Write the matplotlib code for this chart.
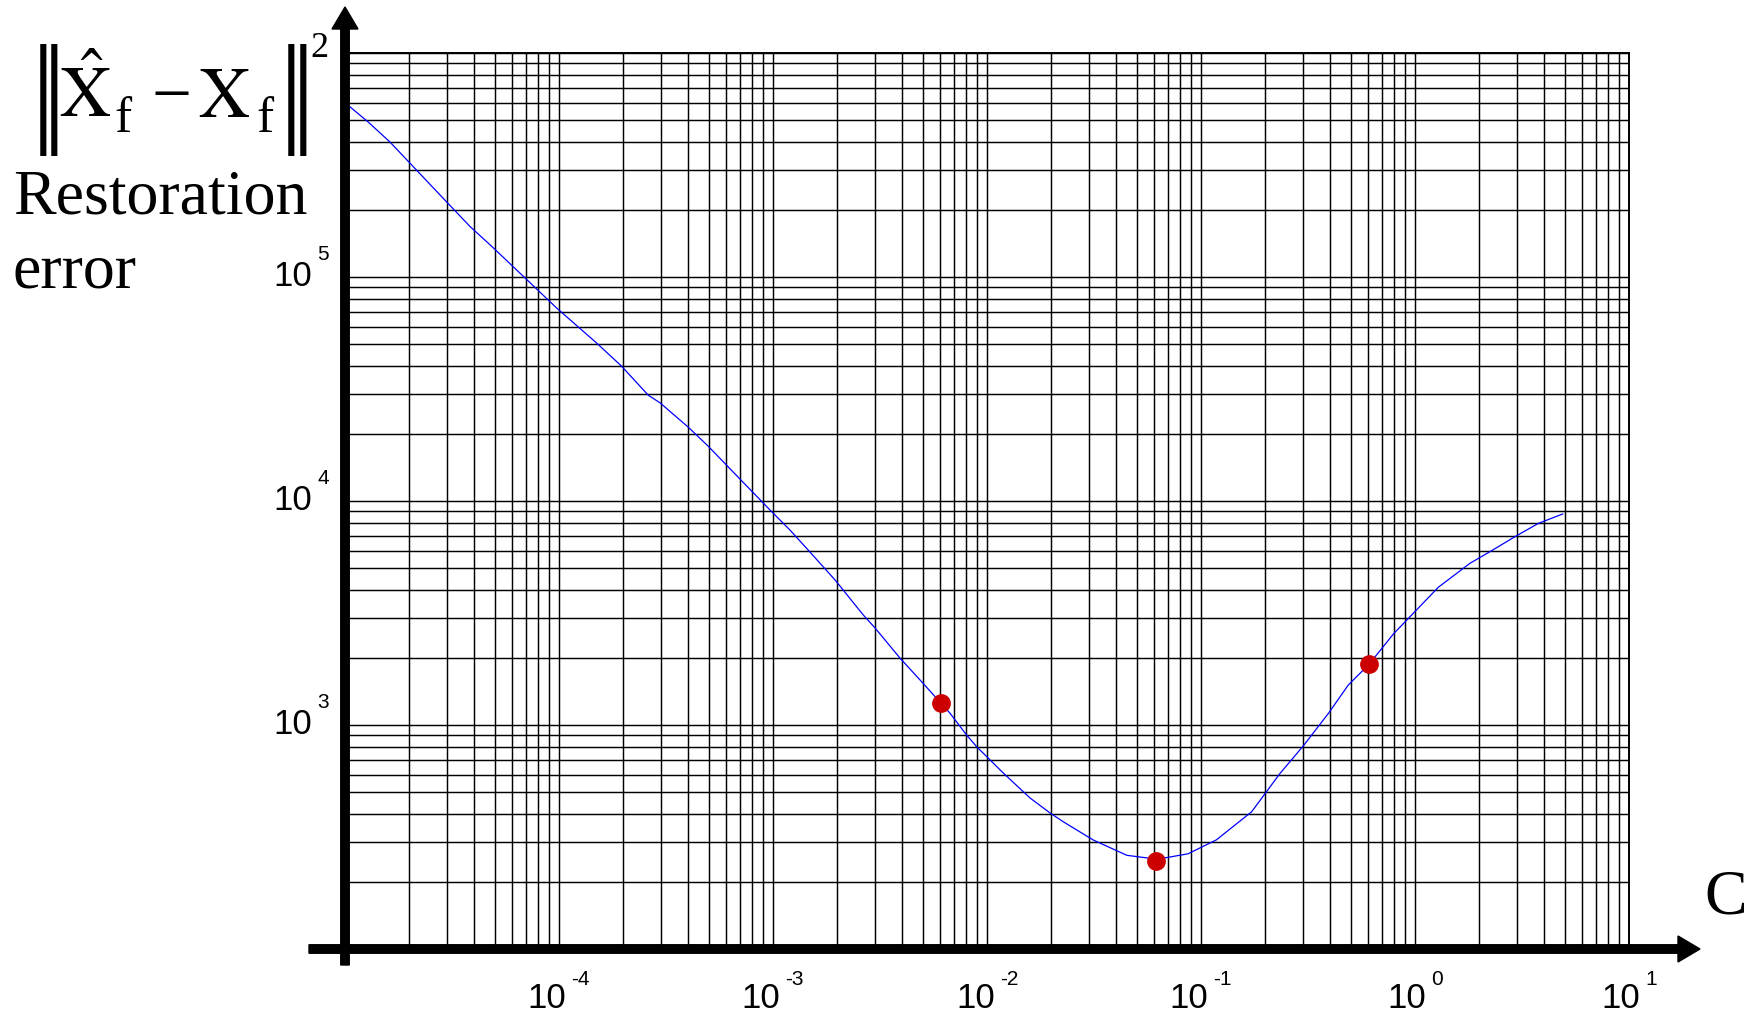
import numpy as np
import matplotlib.pyplot as plt
from matplotlib import transforms
from matplotlib.patches import FancyArrow
from matplotlib.ticker import LogLocator

W, H = 1759, 1014

# restoration error vs C
c_vals = [1.0e-5, 1.28e-5, 1.62e-5, 2.16e-5, 2.87e-5, 3.84e-5, 4.85e-5, 6.79e-5,
          9.75e-5, 1.50e-4, 1.96e-4, 2.61e-4, 2.97e-4, 4.01e-4, 4.97e-4, 6.86e-4,
          9.68e-4, 1.20e-3, 1.46e-3, 1.95e-3, 2.64e-3, 3.0e-3, 3.92e-3, 4.95e-3,
          6.1e-3, 6.71e-3, 8.03e-3, 8.95e-3, 1.19e-2, 1.59e-2, 1.97e-2, 2.27e-2,
          3.13e-2, 4.50e-2, 6.17e-2, 6.92e-2, 8.69e-2, 0.118, 0.1725, 0.234,
          0.301, 0.394, 0.488, 0.611, 0.792, 0.982, 1.285, 1.807, 2.28, 2.93,
          3.77, 4.9]
err_vals = [6.0e5, 4.93e5, 4.01e5, 3.0e5, 2.25e5, 1.68e5, 1.37e5, 1.01e5,
            7.27e4, 5.07e4, 4.0e4, 2.97e4, 2.74e4, 2.14e4, 1.76e4, 1.28e4,
            9120, 7420, 6040, 4440, 3100, 2710, 1990, 1560,
            1250, 1130, 902, 800, 611, 472, 405, 370,
            307, 262, 252, 256, 266, 307, 410, 608,
            808, 1127, 1509, 1870, 2547, 3153, 4119, 5272, 6000, 6929,
            7943, 8750]

# highlighted points
dot_c = [6.1e-3, 6.17e-2, 0.611]
dot_err = [1250, 248, 1870]

xtick_exps = ['-4', '-3', '-2', '-1', '0', '1']
ytick_exps = ['3', '4', '5']

fig = plt.figure(figsize=(W / 100, H / 100), dpi=100)
ax = fig.add_axes([345 / W, 1 - 949 / H, 1284 / W, 896 / H])
ax.set_xscale('log')
ax.set_yscale('log')
ax.set_xlim(1e-5, 10)
ax.set_ylim(1e2, 1e6)
ax.xaxis.set_minor_locator(LogLocator(base=10, subs=np.arange(2, 10), numticks=100))
ax.yaxis.set_minor_locator(LogLocator(base=10, subs=np.arange(2, 10), numticks=100))
ax.grid(True, which='both', color='black', lw=1.05)
ax.tick_params(which='both', length=0, labelbottom=False, labelleft=False)
ax.spines['left'].set_visible(False)
ax.spines['bottom'].set_visible(False)
ax.spines['top'].set_linewidth(1.4)
ax.spines['right'].set_linewidth(1.4)

ax.plot(c_vals, err_vals, color='blue', lw=0.9, zorder=4)
ax.plot(dot_c, dot_err, 'o', color='#cc0000', ms=12.5, zorder=5, clip_on=False)

# pixel coordinates (origin top-left) -> figure
pix = transforms.Affine2D().scale(1 / W, -1 / H).translate(0, 1) + fig.transFigure

# thick axes with arrow heads
fig.add_artist(FancyArrow(345, 965, 0, -958, width=8.5, head_width=26, head_length=22,
                          length_includes_head=True, color='black', transform=pix))
fig.add_artist(FancyArrow(309, 949, 1391, 0, width=8.5, head_width=26, head_length=22,
                          length_includes_head=True, color='black', transform=pix))

# tick labels: "10" with a raised exponent
sans = 'Liberation Sans'
r = fig.canvas.get_renderer()
gap = 5
for e in xtick_exps:
    xv = 10.0 ** float(e)
    t1 = ax.text(xv, 0, '10', fontsize=25, family=sans, ha='right', va='baseline')
    t2 = ax.text(xv, 0, e, fontsize=15, family=sans, ha='left', va='baseline')
    w1 = t1.get_window_extent(r).width
    w2 = t2.get_window_extent(r).width
    shift = (w1 + gap + w2) / 2 - gap - w2
    t1.set_transform(transforms.offset_copy(ax.get_xaxis_transform(), fig=fig,
                                            x=shift, y=-59, units='dots'))
    t2.set_transform(transforms.offset_copy(ax.get_xaxis_transform(), fig=fig,
                                            x=shift + gap, y=-36, units='dots'))

for e in ytick_exps:
    yv = 10.0 ** float(e)
    ax.text(0, yv, '10', fontsize=25, family=sans, ha='right', va='baseline',
            transform=transforms.offset_copy(ax.get_yaxis_transform(), fig=fig,
                                             x=-33, y=-9, units='dots'))
    ax.text(0, yv, e, fontsize=15, family=sans, ha='left', va='baseline',
            transform=transforms.offset_copy(ax.get_yaxis_transform(), fig=fig,
                                             x=-28, y=16.5, units='dots'))

# y title: ||X^_f - X_f||^2, set piece by piece
serif = 'Liberation Serif'
for xb in [43, 54.5, 291.5, 303]:
    fig.text(xb, 130, '|', fontsize=88, family=serif, ha='center', va='baseline', transform=pix)
fig.text(59, 117, r'$\hat{\mathrm{X}}$', fontsize=51, math_fontfamily='stix', ha='left', va='baseline', transform=pix)
fig.text(114, 132, 'f', fontsize=37, family=serif, ha='left', va='baseline', transform=pix)
fig.text(151, 117, '\u2212', fontsize=51, family=serif, ha='left', va='baseline', transform=pix)
fig.text(198, 117, r'$\mathrm{X}$', fontsize=51, math_fontfamily='stix', ha='left', va='baseline', transform=pix)
fig.text(256, 132, 'f', fontsize=37, family=serif, ha='left', va='baseline', transform=pix)
fig.text(310, 57, '2', fontsize=26, family=serif, ha='left', va='baseline', transform=pix)

fig.text(13, 213, 'Restoration', fontsize=46, family=serif, ha='left', va='baseline', transform=pix)
fig.text(13, 288, 'error', fontsize=46, family=serif, ha='left', va='baseline', transform=pix)
fig.text(1704, 913, 'C', fontsize=46, family=serif, ha='left', va='baseline', transform=pix)

fig.savefig('out.png', dpi=100)
